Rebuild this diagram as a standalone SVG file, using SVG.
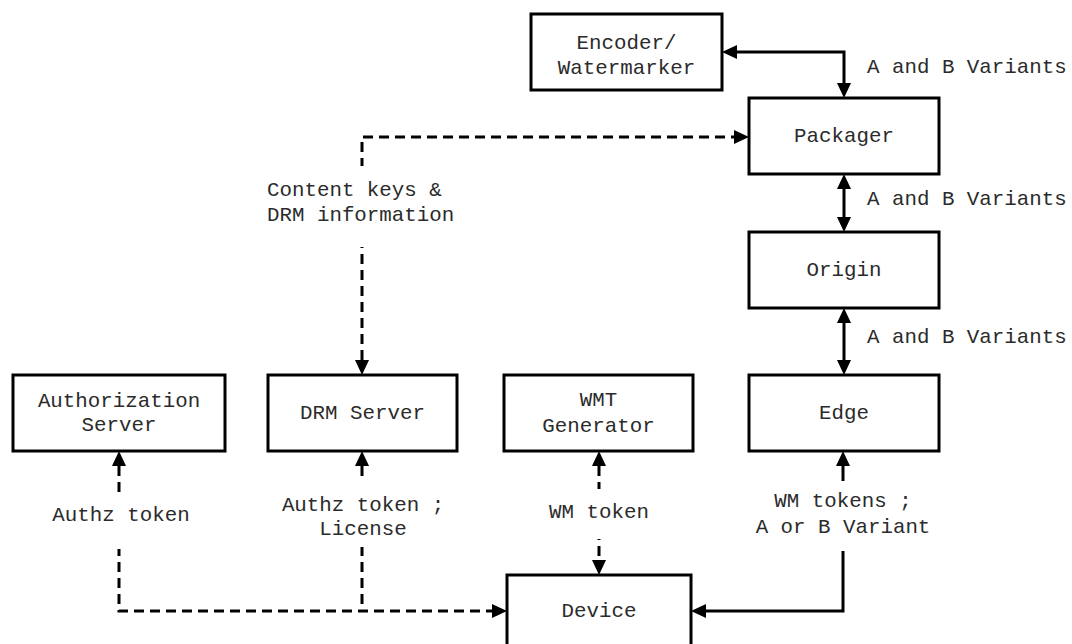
<svg xmlns="http://www.w3.org/2000/svg" width="1072" height="644" viewBox="0 0 1072 644">
<style>
.box{fill:#fff;stroke:#000;stroke-width:3}
.t{font-family:"Liberation Mono","Courier New",monospace;font-size:20.8px;fill:#2b2b2b}
.c{text-anchor:middle}
.ln{fill:none;stroke:#000;stroke-width:3}
.d{stroke-dasharray:10 6}
.bg{fill:#fff}
.a2{marker-start:url(#ah);marker-end:url(#ah)}
.a1{marker-end:url(#ah)}
</style>
<defs>
<marker id="ah" markerUnits="userSpaceOnUse" markerWidth="15" markerHeight="14" refX="0" refY="7" orient="auto-start-reverse" viewBox="0 0 15 14">
<path d="M0,0 L15,7 L0,14 z" fill="#000"/>
</marker>
</defs>
<rect width="1072" height="644" fill="#fff"/>
<g id="connectors">
<path class="ln a2" d="M737,52 H844 V83"/>
<path class="ln a2" d="M844,189 V217"/>
<path class="ln a2" d="M844,323 V360"/>
<path class="ln a2" d="M843,466 V611 H706"/>
<path class="ln d a2" d="M362,360 V137 H734"/>
<path class="ln d a2" d="M119,466 V611 H492"/>
<path class="ln d" d="M362,466 V611" style="marker-start:url(#ah)"/>
<path class="ln d a2" d="M599,466 V560"/>
<rect class="bg" x="752" y="481" width="186" height="70"/>
<rect class="bg" x="262" y="166" width="200" height="81"/>
<rect class="bg" x="45" y="494" width="150" height="55"/>
<rect class="bg" x="275" y="482" width="175" height="65"/>
<rect class="bg" x="540" y="489" width="118" height="50"/>
<text class="t" x="867" y="73">A and B Variants</text>
<text class="t" x="867" y="205">A and B Variants</text>
<text class="t" x="867" y="343">A and B Variants</text>
<text class="t" x="267" y="196">Content keys &amp;</text>
<text class="t" x="267" y="221">DRM information</text>
<text class="t c" x="121" y="521">Authz token</text>
<text class="t c" x="363" y="511">Authz token ;</text>
<text class="t c" x="363" y="535">License</text>
<text class="t c" x="599" y="518">WM token</text>
<text class="t c" x="843" y="507">WM tokens ;</text>
<text class="t c" x="843" y="533">A or B Variant</text>
</g>
<g id="encoder"><rect class="box" x="531" y="14" width="191" height="76"/><text class="t c" x="626.5" y="49">Encoder/</text><text class="t c" x="626.5" y="74">Watermarker</text></g>
<g id="packager"><rect class="box" x="749" y="98" width="190" height="76"/><text class="t c" x="844" y="142">Packager</text></g>
<g id="origin"><rect class="box" x="749" y="232" width="190" height="76"/><text class="t c" x="844" y="276">Origin</text></g>
<g id="edge"><rect class="box" x="749" y="375" width="190" height="76"/><text class="t c" x="844" y="419">Edge</text></g>
<g id="auth"><rect class="box" x="13" y="375" width="212" height="76"/><text class="t c" x="119" y="407">Authorization</text><text class="t c" x="119" y="431">Server</text></g>
<g id="drm"><rect class="box" x="268" y="375" width="189" height="76"/><text class="t c" x="362.5" y="419">DRM Server</text></g>
<g id="wmt"><rect class="box" x="504" y="375" width="189" height="76"/><text class="t c" x="598.5" y="406">WMT</text><text class="t c" x="598.5" y="432">Generator</text></g>
<g id="device"><rect class="box" x="507" y="575" width="184" height="76"/><text class="t c" x="599" y="617">Device</text></g>
</svg>
